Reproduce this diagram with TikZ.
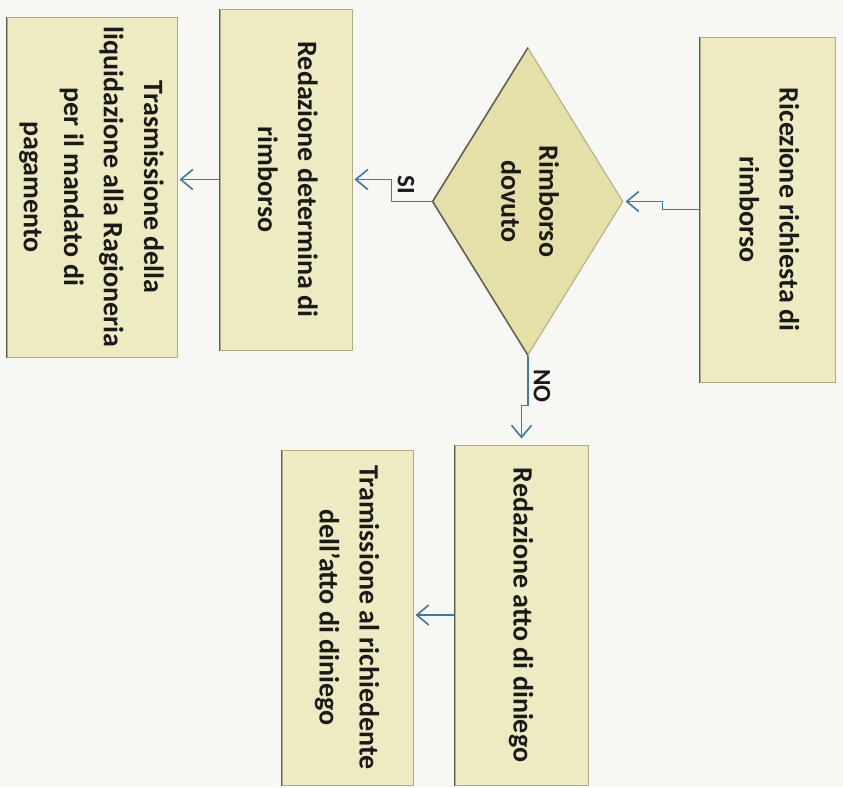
\documentclass[tikz,border=0pt]{standalone}
\usepackage{fontspec}
\setmainfont{Carlito}
\usetikzlibrary{shapes.geometric,arrows.meta}
\definecolor{bgc}{HTML}{F7F7F3}
\definecolor{boxfill}{HTML}{EEEBC2}
\definecolor{diafill}{HTML}{E5DFA8}
\definecolor{boxline}{HTML}{AFAB84}
\definecolor{edgedark}{HTML}{5E5C50}
\definecolor{arrowc}{HTML}{40799F}
\definecolor{txt}{HTML}{1A1A1A}
\newcommand{\vtext}[1]{\rotatebox{-90}{\begin{tabular}{@{}c@{}}#1\end{tabular}}}
\begin{document}
\begin{tikzpicture}[x=1pt,y=-1pt,
  stepbox/.style={rectangle, draw=boxline, fill=boxfill, line width=1pt, inner sep=0pt,
    font=\fontsize{28}{40}\selectfont\bfseries, text=txt},
  decision/.style={diamond, draw=boxline, fill=diafill, line width=1pt, inner sep=0pt,
    aspect=0.62, font=\fontsize{28}{38}\selectfont\bfseries, text=txt},
  flow/.style={draw=arrowc, line width=1.4pt, shorten >=2pt,
    -{Straight Barb[length=12pt,width=20pt,line width=1.6pt]}},
  lbl/.style={font=\fontsize{25}{28}\selectfont\bfseries, text=txt, inner sep=0pt},
  darkedge/.style={draw=edgedark, line width=1.4pt}]
\fill[bgc] (0,0) rectangle (843,787);
\useasboundingbox (0,0) rectangle (843,787);

\node[stepbox, minimum width=135pt, minimum height=345pt] (ric) at (767.5,209.5)
  {\vtext{Ricezione richiesta di\\rimborso}};
\node[decision, minimum width=190pt, minimum height=307pt] (dia) at (528,201.5)
  {\vtext{Rimborso\\dovuto}};
\node[stepbox, minimum width=132pt, minimum height=341pt] (det) at (286,179.5)
  {\vtext{Redazione determina di\\rimborso}};
\node[stepbox, minimum width=170pt, minimum height=340pt] (tra) at (92,187)
  {\vtext{Trasmissione della\\liquidazione alla Ragioneria\\per il mandato di\\pagamento}};
\node[stepbox, minimum width=133pt, minimum height=340pt] (din) at (521.5,615)
  {\vtext{Redazione atto di diniego}};
\node[stepbox, minimum width=131pt, minimum height=335pt] (tri) at (347.5,617.5)
  {\vtext{Tramissione al richiedente\\dell'atto di diniego}};

\foreach \n in {ric,det,tra,din,tri}{
  \draw[darkedge] (\n.south west) -- (\n.north west);
}
\draw[darkedge] (dia.north) -- (dia.west) -- (dia.south);

\node[lbl] (si) at (406,185) {\rotatebox{-90}{SI}};
\node[lbl] (no) at (542,386) {\rotatebox{-90}{NO}};

\draw[flow] (ric.west) -- ++(-37,0) |- (dia.east);
\draw[flow] (dia.west) -- ++(-41,0) |- (det.east);
\draw[flow] (det.west) -- (det.west -| tra.east);
\draw[flow, shorten >=6pt] (dia.south) -- ++(0,50) -| (din.north);
\draw[flow] (din.west) -- (din.west -| tri.east);
\end{tikzpicture}
\end{document}
